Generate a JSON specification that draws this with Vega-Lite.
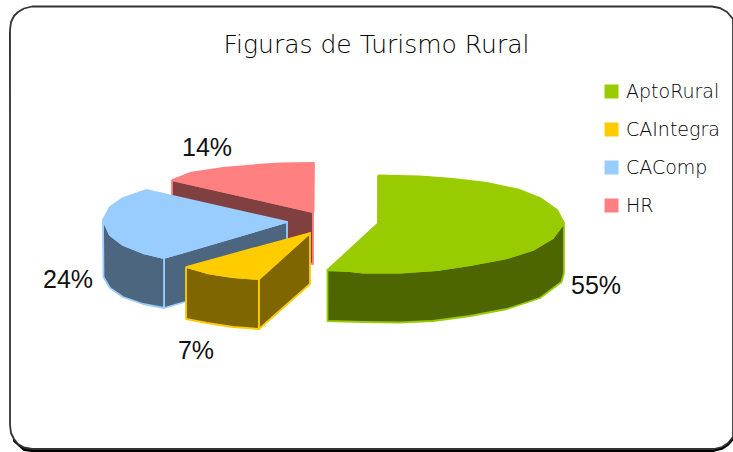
{"$schema":"https://vega.github.io/schema/vega-lite/v6.json","width":733,"height":452,"autosize":"none","padding":0,"background":"white",
"title":{"text":"Figuras de Turismo Rural","font":"DejaVu Sans","fontSize":25,"fontWeight":200,"color":"#000000","anchor":"middle","offset":0,"dx":10,"dy":78,"baseline":"alphabetic"},
"view":{"stroke":null},
"layer":[
{"data":{"values":[
{"part":"shadow","shade":"Shadow","slice":"Shadow","seq":1,"x":10,"y":32},{"part":"shadow","shade":"Shadow","slice":"Shadow","seq":2,"x":14,"y":441},{"part":"shadow","shade":"Shadow","slice":"Shadow","seq":3,"x":24,"y":450},{"part":"shadow","shade":"Shadow","slice":"Shadow","seq":4,"x":32,"y":451},{"part":"shadow","shade":"Shadow","slice":"Shadow","seq":5,"x":714,"y":451},{"part":"shadow","shade":"Shadow","slice":"Shadow","seq":6,"x":722,"y":449},{"part":"shadow","shade":"Shadow","slice":"Shadow","seq":7,"x":728,"y":445},{"part":"shadow","shade":"Shadow","slice":"Shadow","seq":8,"x":736,"y":436},{"part":"shadow","shade":"Shadow","slice":"Shadow","seq":9,"x":736,"y":32},
{"part":"panel","shade":"Panel","slice":"Panel","seq":1,"x":10,"y":30},{"part":"panel","shade":"Panel","slice":"Panel","seq":2,"x":11,"y":22},{"part":"panel","shade":"Panel","slice":"Panel","seq":3,"x":14,"y":16},{"part":"panel","shade":"Panel","slice":"Panel","seq":4,"x":18,"y":12},{"part":"panel","shade":"Panel","slice":"Panel","seq":5,"x":24,"y":8.5},{"part":"panel","shade":"Panel","slice":"Panel","seq":6,"x":32,"y":6.5},{"part":"panel","shade":"Panel","slice":"Panel","seq":7,"x":712,"y":6.5},{"part":"panel","shade":"Panel","slice":"Panel","seq":8,"x":720,"y":8},{"part":"panel","shade":"Panel","slice":"Panel","seq":9,"x":727,"y":12},{"part":"panel","shade":"Panel","slice":"Panel","seq":10,"x":733,"y":19},{"part":"panel","shade":"Panel","slice":"Panel","seq":11,"x":733,"y":437},{"part":"panel","shade":"Panel","slice":"Panel","seq":12,"x":728,"y":443},{"part":"panel","shade":"Panel","slice":"Panel","seq":13,"x":722,"y":447},{"part":"panel","shade":"Panel","slice":"Panel","seq":14,"x":714,"y":449},{"part":"panel","shade":"Panel","slice":"Panel","seq":15,"x":32,"y":449},{"part":"panel","shade":"Panel","slice":"Panel","seq":16,"x":24,"y":447.5},{"part":"panel","shade":"Panel","slice":"Panel","seq":17,"x":18,"y":444},{"part":"panel","shade":"Panel","slice":"Panel","seq":18,"x":14,"y":439},{"part":"panel","shade":"Panel","slice":"Panel","seq":19,"x":11,"y":433},{"part":"panel","shade":"Panel","slice":"Panel","seq":20,"x":10,"y":425},{"part":"panel","shade":"Panel","slice":"Panel","seq":21,"x":10,"y":30},
{"part":"hr side","shade":"HR side","slice":"HR","seq":1,"x":172,"y":180},{"part":"hr side","shade":"HR side","slice":"HR","seq":2,"x":313,"y":212},{"part":"hr side","shade":"HR side","slice":"HR","seq":3,"x":313,"y":264},{"part":"hr side","shade":"HR side","slice":"HR","seq":4,"x":172,"y":232},{"part":"hr side","shade":"HR side","slice":"HR","seq":5,"x":172,"y":180},
{"part":"hr top","shade":"HR","slice":"HR","seq":1,"x":172,"y":180},{"part":"hr top","shade":"HR","slice":"HR","seq":2,"x":190,"y":173},{"part":"hr top","shade":"HR","slice":"HR","seq":3,"x":223,"y":168},{"part":"hr top","shade":"HR","slice":"HR","seq":4,"x":257,"y":165},{"part":"hr top","shade":"HR","slice":"HR","seq":5,"x":280,"y":163.5},{"part":"hr top","shade":"HR","slice":"HR","seq":6,"x":314,"y":163},{"part":"hr top","shade":"HR","slice":"HR","seq":7,"x":313.5,"y":212},{"part":"hr top","shade":"HR","slice":"HR","seq":8,"x":172,"y":180},
{"part":"blue face","shade":"CAComp side","slice":"CAComp","seq":1,"x":164,"y":258},{"part":"blue face","shade":"CAComp side","slice":"CAComp","seq":2,"x":287,"y":222},{"part":"blue face","shade":"CAComp side","slice":"CAComp","seq":3,"x":287,"y":272},{"part":"blue face","shade":"CAComp side","slice":"CAComp","seq":4,"x":164,"y":308},{"part":"blue face","shade":"CAComp side","slice":"CAComp","seq":5,"x":164,"y":258},
{"part":"blue rim","shade":"CAComp side","slice":"CAComp","seq":1,"x":103,"y":220},{"part":"blue rim","shade":"CAComp side","slice":"CAComp","seq":2,"x":110,"y":235},{"part":"blue rim","shade":"CAComp side","slice":"CAComp","seq":3,"x":123,"y":245},{"part":"blue rim","shade":"CAComp side","slice":"CAComp","seq":4,"x":143,"y":253},{"part":"blue rim","shade":"CAComp side","slice":"CAComp","seq":5,"x":164,"y":258},{"part":"blue rim","shade":"CAComp side","slice":"CAComp","seq":6,"x":164,"y":308},{"part":"blue rim","shade":"CAComp side","slice":"CAComp","seq":7,"x":143,"y":304},{"part":"blue rim","shade":"CAComp side","slice":"CAComp","seq":8,"x":123,"y":297},{"part":"blue rim","shade":"CAComp side","slice":"CAComp","seq":9,"x":110,"y":288},{"part":"blue rim","shade":"CAComp side","slice":"CAComp","seq":10,"x":103.5,"y":277},{"part":"blue rim","shade":"CAComp side","slice":"CAComp","seq":11,"x":103,"y":220},
{"part":"blue top","shade":"CAComp","slice":"CAComp","seq":1,"x":146,"y":190},{"part":"blue top","shade":"CAComp","slice":"CAComp","seq":2,"x":123,"y":198},{"part":"blue top","shade":"CAComp","slice":"CAComp","seq":3,"x":110,"y":207},{"part":"blue top","shade":"CAComp","slice":"CAComp","seq":4,"x":103,"y":220},{"part":"blue top","shade":"CAComp","slice":"CAComp","seq":5,"x":110,"y":235},{"part":"blue top","shade":"CAComp","slice":"CAComp","seq":6,"x":123,"y":245},{"part":"blue top","shade":"CAComp","slice":"CAComp","seq":7,"x":143,"y":253},{"part":"blue top","shade":"CAComp","slice":"CAComp","seq":8,"x":164,"y":258},{"part":"blue top","shade":"CAComp","slice":"CAComp","seq":9,"x":287,"y":222},{"part":"blue top","shade":"CAComp","slice":"CAComp","seq":10,"x":146,"y":190},
{"part":"yellow rim","shade":"CAIntegra side","slice":"CAIntegra","seq":1,"x":186,"y":267},{"part":"yellow rim","shade":"CAIntegra side","slice":"CAIntegra","seq":2,"x":207,"y":273},{"part":"yellow rim","shade":"CAIntegra side","slice":"CAIntegra","seq":3,"x":233,"y":277},{"part":"yellow rim","shade":"CAIntegra side","slice":"CAIntegra","seq":4,"x":259,"y":279},{"part":"yellow rim","shade":"CAIntegra side","slice":"CAIntegra","seq":5,"x":259,"y":329},{"part":"yellow rim","shade":"CAIntegra side","slice":"CAIntegra","seq":6,"x":233,"y":327},{"part":"yellow rim","shade":"CAIntegra side","slice":"CAIntegra","seq":7,"x":207,"y":323},{"part":"yellow rim","shade":"CAIntegra side","slice":"CAIntegra","seq":8,"x":186,"y":319},{"part":"yellow rim","shade":"CAIntegra side","slice":"CAIntegra","seq":9,"x":186,"y":267},
{"part":"yellow face","shade":"CAIntegra side","slice":"CAIntegra","seq":1,"x":259,"y":279},{"part":"yellow face","shade":"CAIntegra side","slice":"CAIntegra","seq":2,"x":310,"y":233},{"part":"yellow face","shade":"CAIntegra side","slice":"CAIntegra","seq":3,"x":310,"y":284},{"part":"yellow face","shade":"CAIntegra side","slice":"CAIntegra","seq":4,"x":259,"y":329},{"part":"yellow face","shade":"CAIntegra side","slice":"CAIntegra","seq":5,"x":259,"y":279},
{"part":"yellow top","shade":"CAIntegra","slice":"CAIntegra","seq":1,"x":186,"y":267},{"part":"yellow top","shade":"CAIntegra","slice":"CAIntegra","seq":2,"x":207,"y":273},{"part":"yellow top","shade":"CAIntegra","slice":"CAIntegra","seq":3,"x":233,"y":277},{"part":"yellow top","shade":"CAIntegra","slice":"CAIntegra","seq":4,"x":259,"y":279},{"part":"yellow top","shade":"CAIntegra","slice":"CAIntegra","seq":5,"x":310,"y":233},{"part":"yellow top","shade":"CAIntegra","slice":"CAIntegra","seq":6,"x":186,"y":267},
{"part":"green side","shade":"AptoRural side","slice":"AptoRural","seq":1,"x":327.5,"y":270},{"part":"green side","shade":"AptoRural side","slice":"AptoRural","seq":2,"x":350,"y":271},{"part":"green side","shade":"AptoRural side","slice":"AptoRural","seq":3,"x":363,"y":272.5},{"part":"green side","shade":"AptoRural side","slice":"AptoRural","seq":4,"x":400,"y":272.5},{"part":"green side","shade":"AptoRural side","slice":"AptoRural","seq":5,"x":437,"y":270},{"part":"green side","shade":"AptoRural side","slice":"AptoRural","seq":6,"x":470,"y":265},{"part":"green side","shade":"AptoRural side","slice":"AptoRural","seq":7,"x":507,"y":258},{"part":"green side","shade":"AptoRural side","slice":"AptoRural","seq":8,"x":533,"y":250},{"part":"green side","shade":"AptoRural side","slice":"AptoRural","seq":9,"x":553,"y":238},{"part":"green side","shade":"AptoRural side","slice":"AptoRural","seq":10,"x":564,"y":223},{"part":"green side","shade":"AptoRural side","slice":"AptoRural","seq":11,"x":564,"y":273},{"part":"green side","shade":"AptoRural side","slice":"AptoRural","seq":12,"x":561.5,"y":282},{"part":"green side","shade":"AptoRural side","slice":"AptoRural","seq":13,"x":540,"y":298},{"part":"green side","shade":"AptoRural side","slice":"AptoRural","seq":14,"x":507,"y":309},{"part":"green side","shade":"AptoRural side","slice":"AptoRural","seq":15,"x":470,"y":316},{"part":"green side","shade":"AptoRural side","slice":"AptoRural","seq":16,"x":433,"y":321},{"part":"green side","shade":"AptoRural side","slice":"AptoRural","seq":17,"x":400,"y":322.5},{"part":"green side","shade":"AptoRural side","slice":"AptoRural","seq":18,"x":363,"y":322},{"part":"green side","shade":"AptoRural side","slice":"AptoRural","seq":19,"x":327.5,"y":321},{"part":"green side","shade":"AptoRural side","slice":"AptoRural","seq":20,"x":327.5,"y":270},
{"part":"green top","shade":"AptoRural","slice":"AptoRural","seq":1,"x":378,"y":175.5},{"part":"green top","shade":"AptoRural","slice":"AptoRural","seq":2,"x":420,"y":176.5},{"part":"green top","shade":"AptoRural","slice":"AptoRural","seq":3,"x":453,"y":179},{"part":"green top","shade":"AptoRural","slice":"AptoRural","seq":4,"x":487,"y":183},{"part":"green top","shade":"AptoRural","slice":"AptoRural","seq":5,"x":520,"y":190},{"part":"green top","shade":"AptoRural","slice":"AptoRural","seq":6,"x":540,"y":198},{"part":"green top","shade":"AptoRural","slice":"AptoRural","seq":7,"x":557,"y":210},{"part":"green top","shade":"AptoRural","slice":"AptoRural","seq":8,"x":564,"y":223},{"part":"green top","shade":"AptoRural","slice":"AptoRural","seq":9,"x":553,"y":238},{"part":"green top","shade":"AptoRural","slice":"AptoRural","seq":10,"x":533,"y":250},{"part":"green top","shade":"AptoRural","slice":"AptoRural","seq":11,"x":507,"y":258},{"part":"green top","shade":"AptoRural","slice":"AptoRural","seq":12,"x":470,"y":265},{"part":"green top","shade":"AptoRural","slice":"AptoRural","seq":13,"x":437,"y":270},{"part":"green top","shade":"AptoRural","slice":"AptoRural","seq":14,"x":400,"y":272.5},{"part":"green top","shade":"AptoRural","slice":"AptoRural","seq":15,"x":363,"y":272.5},{"part":"green top","shade":"AptoRural","slice":"AptoRural","seq":16,"x":350,"y":271},{"part":"green top","shade":"AptoRural","slice":"AptoRural","seq":17,"x":327.5,"y":270},{"part":"green top","shade":"AptoRural","slice":"AptoRural","seq":18,"x":378,"y":223.5},{"part":"green top","shade":"AptoRural","slice":"AptoRural","seq":19,"x":378,"y":175.5}
]},
"mark":{"type":"line","strokeWidth":1.8,"strokeJoin":"round","clip":false},
"encoding":{
"x":{"field":"x","type":"quantitative","scale":{"domain":[0,733],"nice":false,"zero":false},"axis":null},
"y":{"field":"y","type":"quantitative","scale":{"domain":[452,0],"nice":false,"zero":false},"axis":null},
"order":{"field":"seq","type":"quantitative"},
"detail":{"field":"part"},
"fill":{"field":"shade","type":"nominal","sort":null,
"scale":{"domain":["AptoRural","CAIntegra","CAComp","HR","AptoRural side","CAIntegra side","CAComp side","HR side","Panel","Shadow"],"range":["#99CC00","#FFCC00","#99CCFF","#FF8080","#4D6600","#806600","#4D6680","#804040","#FFFFFF","#000000"]},
"legend":{"values":["AptoRural","CAIntegra","CAComp","HR"],"title":null,"orient":"none","legendX":602,"legendY":82,"symbolType":"square","symbolSize":196,"symbolStrokeWidth":0,"symbolOpacity":1,"labelFont":"DejaVu Sans","labelFontSize":19,"labelFontWeight":200,"labelColor":"#000000","labelOffset":5,"rowPadding":18,"labelLimit":130}},
"stroke":{"field":"slice","type":"nominal","legend":null,
"scale":{"domain":["AptoRural","CAIntegra","CAComp","HR","Panel","Shadow"],"range":["#99CC00","#FFCC00","#99CCFF","#FF8080","#333333","#000000"]}}
}},
{"data":{"values":[{"label":"55%","x":596,"y":286},{"label":"7%","x":196,"y":351},{"label":"24%","x":68,"y":280},{"label":"14%","x":207,"y":148}]},
"mark":{"type":"text","font":"Liberation Sans","fontSize":25,"color":"#111111","align":"center","baseline":"middle"},
"encoding":{"x":{"field":"x","type":"quantitative","scale":{"domain":[0,733],"nice":false,"zero":false},"axis":null},"y":{"field":"y","type":"quantitative","scale":{"domain":[452,0],"nice":false,"zero":false},"axis":null},"text":{"field":"label"}}}
]}
